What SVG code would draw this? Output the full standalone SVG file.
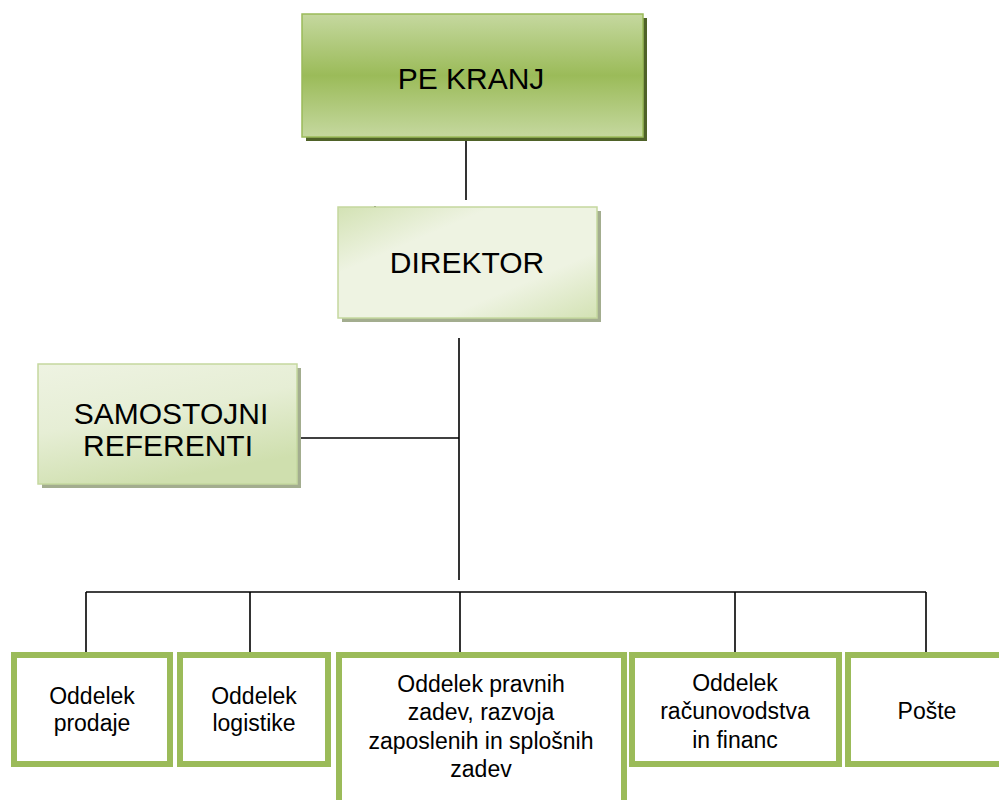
<svg xmlns="http://www.w3.org/2000/svg" width="999" height="800" viewBox="0 0 999 800">
<defs>
<linearGradient id="gTop" x1="0" y1="0" x2="0" y2="1">
<stop offset="0" stop-color="#c5d89f"/>
<stop offset="0.5" stop-color="#9bbb59"/>
<stop offset="1" stop-color="#c5d89f"/>
</linearGradient>
<linearGradient id="gLight" x1="0" y1="0" x2="1" y2="1">
<stop offset="0" stop-color="#d3e2b4"/>
<stop offset="0.3" stop-color="#eef3e2"/>
<stop offset="0.7" stop-color="#eef3e2"/>
<stop offset="1" stop-color="#d3e2b4"/>
</linearGradient>
<linearGradient id="gRef" x1="0" y1="0" x2="0.4" y2="1">
<stop offset="0" stop-color="#eef3e2"/>
<stop offset="0.5" stop-color="#e6eed5"/>
<stop offset="1" stop-color="#cfdfae"/>
</linearGradient>
</defs>
<style>
text{font-family:"Liberation Sans",Arial,sans-serif;fill:#000;text-anchor:middle}
.big{font-size:30px}
.small{font-size:23px}
.dept{fill:#fff;stroke:#9bbb59;stroke-width:6}
.line{stroke:#000;stroke-width:1.6;fill:none}
</style>
<rect width="999" height="800" fill="#fff"/>
<g id="connectors">
<line class="line" x1="466" y1="137" x2="466" y2="200"/>
<line class="line" x1="459" y1="338" x2="459" y2="580"/>
<line class="line" x1="297" y1="438" x2="459" y2="438"/>
<line class="line" x1="86" y1="592" x2="926" y2="592"/>
<line class="line" x1="86" y1="592" x2="86" y2="652"/>
<line class="line" x1="250" y1="592" x2="250" y2="652"/>
<line class="line" x1="460" y1="592" x2="460" y2="652"/>
<line class="line" x1="735" y1="592" x2="735" y2="652"/>
<line class="line" x1="926" y1="592" x2="926" y2="652"/>
<circle cx="375" cy="207" r="1" fill="#000"/>
</g>
<g id="pe-kranj">
<rect x="306" y="18" width="341" height="123" fill="#4f6228"/>
<rect x="302" y="14" width="341" height="123" fill="url(#gTop)" stroke="#9bbb59" stroke-width="1.5"/>
<text class="big" x="471" y="89">PE KRANJ</text>
</g>
<g id="direktor">
<rect x="342" y="211" width="259" height="111" fill="#a3ad8f"/>
<rect x="338" y="207" width="259" height="111" fill="url(#gLight)" stroke="#c5d89f" stroke-width="1.5"/>
<text class="big" x="467" y="273">DIREKTOR</text>
</g>
<g id="samostojni-referenti">
<rect x="42" y="368" width="259" height="120" fill="#a3ad8f"/>
<rect x="38" y="364" width="259" height="120" fill="url(#gRef)" stroke="#c5d89f" stroke-width="1.5"/>
<text class="big" x="171" y="424">SAMOSTOJNI</text>
<text class="big" x="168" y="456">REFERENTI</text>
</g>
<g id="oddelek-prodaje">
<rect class="dept" x="14" y="655" width="156" height="109"/>
<text class="small" x="92" y="704">Oddelek</text>
<text class="small" x="92" y="731">prodaje</text>
</g>
<g id="oddelek-logistike">
<rect class="dept" x="180" y="655" width="148" height="109"/>
<text class="small" x="254" y="704">Oddelek</text>
<text class="small" x="254" y="731">logistike</text>
</g>
<g id="oddelek-pravnih">
<rect class="dept" x="339" y="655" width="285" height="150"/>
<text class="small" x="481" y="692">Oddelek pravnih</text>
<text class="small" x="481" y="720">zadev, razvoja</text>
<text class="small" x="481" y="749">zaposlenih in splošnih</text>
<text class="small" x="481" y="777">zadev</text>
</g>
<g id="oddelek-racunovodstva">
<rect class="dept" x="632" y="655" width="207" height="109"/>
<text class="small" x="735" y="691">Oddelek</text>
<text class="small" x="735" y="719">računovodstva</text>
<text class="small" x="735" y="748">in financ</text>
</g>
<g id="poste">
<rect class="dept" x="848" y="655" width="160" height="109"/>
<text class="small" x="927" y="719">Pošte</text>
</g>
</svg>
